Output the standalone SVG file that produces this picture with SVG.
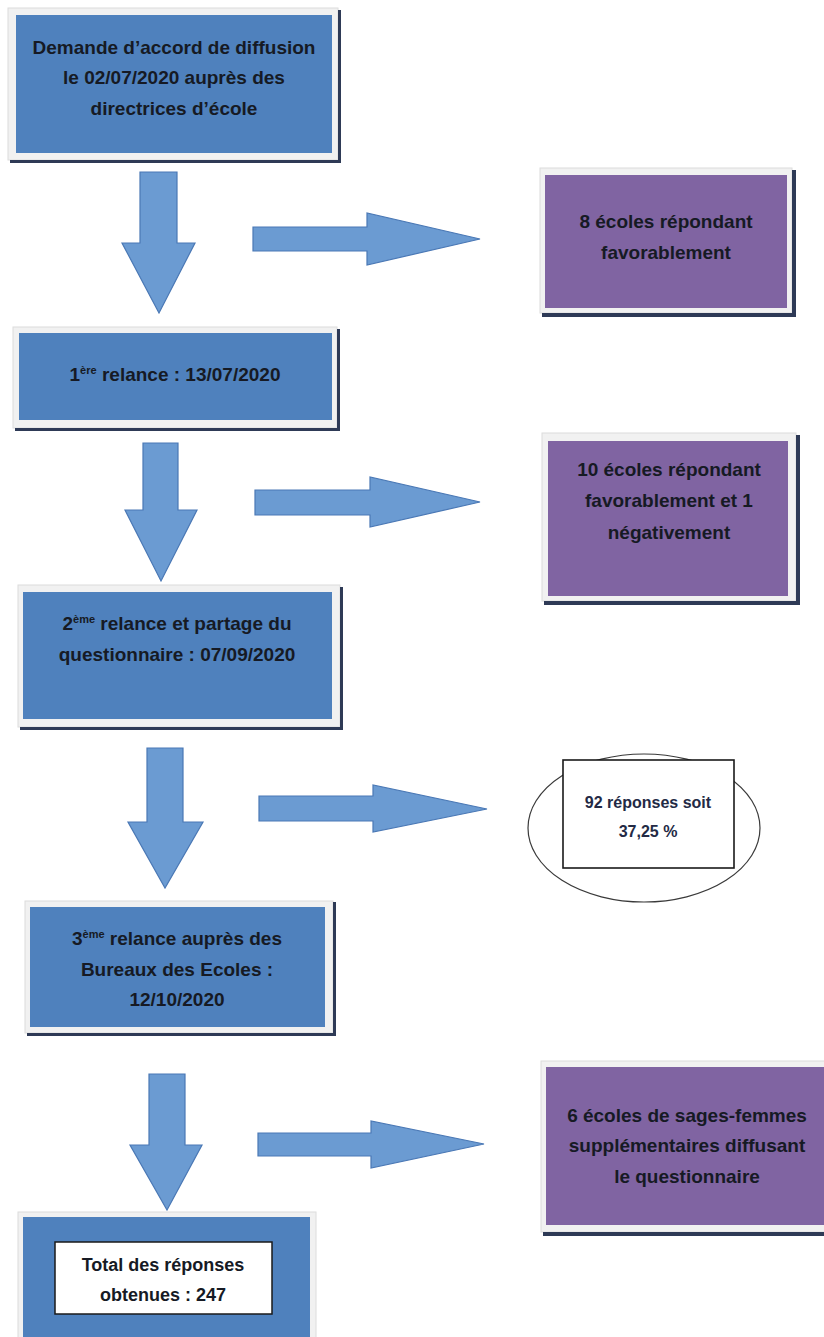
<svg xmlns="http://www.w3.org/2000/svg" width="824" height="1337" viewBox="0 0 824 1337">
<style>
.frame{fill:#f1f1f1;stroke:#dcdcdc;stroke-width:1}
.shadow{fill:#2e3a56}
.blue{fill:#4f81bd}
.purple{fill:#8064a2}
.arrow{fill:#6b9bd2;stroke:#4a78b5;stroke-width:1.2}
.t{font-family:"Liberation Sans",Arial,sans-serif;font-weight:bold;font-size:19px;fill:#161a24;text-anchor:middle}
.sup{font-size:11px}
.small{font-size:18px}
.ell{font-size:16px;fill:#232a45}
</style>
<rect width="824" height="1337" fill="#ffffff"/>

<g id="box1">
<rect class="frame" x="8" y="8" width="330" height="152"/>
<rect class="shadow" x="338" y="10" width="3" height="153"/>
<rect class="shadow" x="10" y="160" width="331" height="3"/>
<rect class="blue" x="16" y="15" width="316" height="138"/>
<text class="t" x="174" y="54">Demande d’accord de diffusion</text>
<text class="t" x="174" y="84">le 02/07/2020 auprès des</text>
<text class="t" x="174" y="115">directrices d’école</text>
</g>

<g id="box2">
<rect class="frame" x="13" y="327" width="324" height="101"/>
<rect class="shadow" x="337" y="329" width="3" height="102"/>
<rect class="shadow" x="15" y="428" width="325" height="3"/>
<rect class="blue" x="19" y="333" width="313" height="87"/>
<text class="t" x="175" y="381">1<tspan class="sup" dy="-7">ère</tspan><tspan dy="7"> relance : 13/07/2020</tspan></text>
</g>

<g id="box3">
<rect class="frame" x="18" y="585" width="322" height="142"/>
<rect class="shadow" x="340" y="587" width="3" height="143"/>
<rect class="shadow" x="20" y="727" width="323" height="3"/>
<rect class="blue" x="23" y="592" width="309" height="127"/>
<text class="t" x="177" y="630">2<tspan class="sup" dy="-7">ème</tspan><tspan dy="7"> relance et partage du</tspan></text>
<text class="t" x="177" y="661">questionnaire : 07/09/2020</text>
</g>

<g id="box4">
<rect class="frame" x="25" y="901" width="308" height="132"/>
<rect class="shadow" x="333" y="902" width="3" height="134"/>
<rect class="shadow" x="27" y="1033" width="309" height="3"/>
<rect class="blue" x="30" y="907" width="295" height="120"/>
<text class="t" x="177" y="945">3<tspan class="sup" dy="-7">ème</tspan><tspan dy="7"> relance auprès des</tspan></text>
<text class="t" x="177" y="976">Bureaux des Ecoles :</text>
<text class="t" x="177" y="1006">12/10/2020</text>
</g>

<g id="box5">
<rect class="frame" x="18" y="1212" width="298" height="130"/>
<rect class="blue" x="23" y="1217" width="287" height="125"/>
<rect x="55" y="1242" width="217" height="72" fill="#ffffff" stroke="#1a1a1a" stroke-width="1.5"/>
<text class="t small" x="163" y="1271">Total des réponses</text>
<text class="t small" x="163" y="1301">obtenues : 247</text>
</g>

<g id="p1">
<rect class="frame" x="540" y="168" width="252" height="145"/>
<rect class="shadow" x="792" y="170" width="4" height="147"/>
<rect class="shadow" x="542" y="313" width="254" height="4"/>
<rect class="purple" x="545" y="175" width="242" height="133"/>
<text class="t" x="666" y="228">8 écoles répondant</text>
<text class="t" x="666" y="259">favorablement</text>
</g>

<g id="p2">
<rect class="frame" x="542" y="433" width="254" height="168"/>
<rect class="shadow" x="796" y="435" width="4" height="170"/>
<rect class="shadow" x="544" y="601" width="256" height="4"/>
<rect class="purple" x="548" y="441" width="240" height="155"/>
<text class="t" x="669" y="476">10 écoles répondant</text>
<text class="t" x="669" y="507">favorablement et 1</text>
<text class="t" x="669" y="539">négativement</text>
</g>

<g id="p3">
<rect class="frame" x="541" y="1061" width="290" height="171"/>
<rect class="shadow" x="543" y="1232" width="290" height="4"/>
<rect class="purple" x="546" y="1067" width="284" height="158"/>
<text class="t" x="687" y="1122">6 écoles de sages-femmes</text>
<text class="t" x="687" y="1152">supplémentaires diffusant</text>
<text class="t" x="687" y="1183">le questionnaire</text>
</g>

<g id="result">
<ellipse cx="644" cy="828" rx="116" ry="74" fill="#ffffff" stroke="#3a3a3a" stroke-width="1.2"/>
<rect x="563" y="760" width="171" height="108" fill="#ffffff" stroke="#1a1a1a" stroke-width="1.6"/>
<text class="t ell" x="648" y="808">92 réponses soit</text>
<text class="t ell" x="648" y="837">37,25 %</text>
</g>

<g id="connectors">
<polygon class="arrow" points="140,172 177,172 177,243 195,243 159,313 122,243 140,243"/>
<polygon class="arrow" points="143,443 178,443 178,510 197,510 161,581 125,510 143,510"/>
<polygon class="arrow" points="147,748 183,748 183,822 203,822 165,888 128,822 147,822"/>
<polygon class="arrow" points="149,1074 185,1074 185,1145 202,1145 167,1210 130,1145 149,1145"/>
<polygon class="arrow" points="253,227 367,227 367,213 480,239 367,265 367,251 253,251"/>
<polygon class="arrow" points="255,490 370,490 370,477 480,502 370,527 370,515 255,515"/>
<polygon class="arrow" points="259,796 373,796 373,785 487,809 373,832 373,821 259,821"/>
<polygon class="arrow" points="258,1133 371,1133 371,1121 484,1144 371,1168 371,1156 258,1156"/>
</g>
</svg>
